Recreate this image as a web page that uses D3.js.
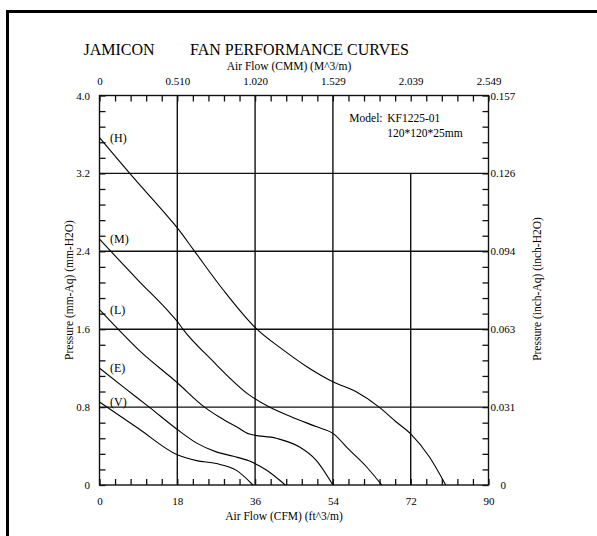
<!DOCTYPE html>
<html>
<head>
<meta charset="utf-8">
<script src="https://cdn.jsdelivr.net/npm/d3@7"></script>
<style>
  body { margin: 0; background: #fff; }
  svg { display: block; font-family: "Liberation Serif", "Times New Roman", serif; }
</style>
</head>
<body>
<svg id="chart" width="597" height="536"></svg>
<script>
// fan curves: airflow in CFM, static pressure in mm-Aq
const curveNames = ["(H)", "(M)", "(L)", "(E)", "(V)"];
const flowH = [0, 7, 16.3, 18, 22, 28.6, 36.4, 42.4, 47.8, 54, 59.4, 64.7, 68.6, 72, 76.3, 80.1];
const presH = [3.567, 3.2, 2.73, 2.64, 2.4, 2.005, 1.6, 1.39, 1.22, 1.06, 0.957, 0.8, 0.65, 0.525, 0.29, 0];
const flowM = [0, 9, 16.3, 18, 19.3, 25.9, 34.7, 39.3, 44.7, 50.1, 54, 57.8, 61.7, 65.3];
const presM = [2.525, 2.1, 1.766, 1.68, 1.6, 1.287, 0.923, 0.8, 0.694, 0.6, 0.53, 0.36, 0.19, 0];
const flowL = [0, 4.3, 9, 18, 24.3, 28, 32, 34.7, 40.9, 46.3, 50.1, 54];
const presL = [1.8, 1.6, 1.39, 1.05, 0.8, 0.69, 0.59, 0.523, 0.48, 0.39, 0.256, 0];
const flowE = [0, 6, 11.5, 18, 22.5, 27, 31, 34.7, 38.6, 43];
const presE = [1.2, 0.99, 0.8, 0.57, 0.43, 0.34, 0.295, 0.246, 0.154, 0];
const flowV = [0, 9, 18, 22.5, 27, 31.7, 35.5];
const presV = [0.853, 0.58, 0.31, 0.25, 0.22, 0.15, 0];

// axis ticks and the secondary unit labels
const cfmTicks = [0, 18, 36, 54, 72, 90];
const cmmLabels = ["0", "0.510", "1.020", "1.529", "2.039", "2.549"];
const mmTicks = [0, 0.8, 1.6, 2.4, 3.2, 4.0];
const inchLabels = ["0", "0.031", "0.063", "0.094", "0.126", "0.157"];

const series = [
  { name: curveNames[0], flow: flowH, pres: presH },
  { name: curveNames[1], flow: flowM, pres: presM },
  { name: curveNames[2], flow: flowL, pres: presL },
  { name: curveNames[3], flow: flowE, pres: presE },
  { name: curveNames[4], flow: flowV, pres: presV }
];

const svg = d3.select("#chart");

// outer frame (runs off the right and bottom edges)
svg.append("rect")
  .attr("x", 7.5).attr("y", 11.5)
  .attr("width", 700).attr("height", 700)
  .attr("fill", "#fff").attr("stroke", "#000").attr("stroke-width", 3);

let x = d3.scaleLinear().domain([0, 90]).range([99.5, 488.5]);
let y = d3.scaleLinear().domain([0, 4]).range([485, 95.5]);

// titles
svg.append("text").attr("x", 83.5).attr("y", 54.5)
  .attr("font-size", 16).text("JAMICON");
svg.append("text").attr("x", 190).attr("y", 54.5)
  .attr("font-size", 16).text("FAN PERFORMANCE CURVES");
svg.append("text").attr("x", 289).attr("y", 69.5)
  .attr("text-anchor", "middle").attr("font-size", 11.5)
  .text("Air Flow (CMM) (M^3/m)");
svg.append("text").attr("x", 284).attr("y", 520)
  .attr("text-anchor", "middle").attr("font-size", 11.5)
  .text("Air Flow (CFM) (ft^3/m)");
svg.append("text").attr("transform", "translate(73,290) rotate(-90)")
  .attr("text-anchor", "middle").attr("font-size", 11.5)
  .text("Pressure (mm-Aq) (mm-H2O)");
svg.append("text").attr("transform", "translate(541,289) rotate(-90)")
  .attr("text-anchor", "middle").attr("font-size", 11.5)
  .text("Pressure (inch-Aq) (inch-H2O)");

// grid lines
let grid = svg.append("g").attr("stroke", "#111").attr("stroke-width", 1.4);
[0.8, 1.6, 2.4, 3.2].forEach((p) => {
  grid.append("line")
    .attr("x1", x(0)).attr("x2", x(90))
    .attr("y1", y(p)).attr("y2", y(p));
});
[18, 36, 54, 72].forEach((f) => {
  grid.append("line")
    .attr("x1", x(f)).attr("x2", x(f))
    .attr("y1", y(0)).attr("y2", f === 72 ? y(3.2) : y(4));
});

// small inward ticks on all four sides
const xMinor = d3.range(0, 26).map((i) => i * 3.6);
const yMinor = d3.range(0, 26).map((i) => i * 0.16);

function styleTicks(g) {
  g.select(".domain").remove();
  g.selectAll(".tick line").attr("stroke", "#111").attr("stroke-width", 1.3);
}

svg.append("g").attr("transform", `translate(0,${y(0)})`)
  .call(d3.axisBottom(x).tickValues(xMinor).tickSize(-6).tickFormat(""))
  .call(styleTicks);
svg.append("g").attr("transform", `translate(0,${y(4)})`)
  .call(d3.axisTop(x).tickValues(xMinor).tickSize(-6).tickFormat(""))
  .call(styleTicks);
svg.append("g").attr("transform", `translate(${x(0)},0)`)
  .call(d3.axisLeft(y).tickValues(yMinor).tickSize(-6).tickFormat(""))
  .call(styleTicks);
svg.append("g").attr("transform", `translate(${x(90)},0)`)
  .call(d3.axisRight(y).tickValues(yMinor).tickSize(-6).tickFormat(""))
  .call(styleTicks);

// tick labels
function styleLabels(g) {
  g.select(".domain").remove();
  g.selectAll(".tick line").remove();
  g.selectAll("text").attr("font-size", 11).attr("fill", "#000")
    .attr("font-family", "Liberation Serif, Times New Roman, serif");
}

svg.append("g").attr("transform", `translate(0,${y(0)})`)
  .call(d3.axisBottom(x).tickValues(cfmTicks).tickSize(0).tickPadding(12.5))
  .call(styleLabels);
svg.append("g").attr("transform", `translate(0,${y(4)})`)
  .call(d3.axisTop(x).tickValues(cfmTicks).tickSize(0).tickPadding(11)
    .tickFormat((d, i) => cmmLabels[i]))
  .call(styleLabels);
svg.append("g").attr("transform", `translate(${x(0)},0)`)
  .call(d3.axisLeft(y).tickValues(mmTicks).tickSize(0).tickPadding(9.5)
    .tickFormat((d) => d === 0 ? "0" : d3.format(".1f")(d)))
  .call(styleLabels);
svg.append("g").attr("transform", `translate(${x(90)},0)`)
  .call(d3.axisRight(y).tickValues(mmTicks).tickSize(0).tickPadding(2)
    .tickFormat((d, i) => inchLabels[i]))
  .call(styleLabels)
  .call((g) => g.selectAll("text").filter((d) => d === 0).attr("x", 12));

// plot frame
svg.append("rect")
  .attr("x", x(0)).attr("y", y(4))
  .attr("width", x(90) - x(0)).attr("height", y(0) - y(4))
  .attr("fill", "none").attr("stroke", "#111").attr("stroke-width", 1.4);

// curves
let line = d3.line()
  .x((d) => x(d[0]))
  .y((d) => y(d[1]))
  .curve(d3.curveMonotoneX);

series.forEach((s) => {
  let pts = s.flow.map((f, i) => [f, s.pres[i]]);
  svg.append("path")
    .attr("d", line(pts))
    .attr("fill", "none")
    .attr("stroke", "#000")
    .attr("stroke-width", 1.1);

  svg.append("text")
    .attr("x", x(0) + 10.5)
    .attr("y", y(s.pres[0]) + 4)
    .attr("font-size", 12)
    .text(s.name);
});

// model box text
svg.append("text").attr("x", 349.3).attr("y", 122).attr("font-size", 11.5).text("Model:");
svg.append("text").attr("x", 387.3).attr("y", 122).attr("font-size", 11.5).text("KF1225-01");
svg.append("text").attr("x", 387.3).attr("y", 137).attr("font-size", 11.5).text("120*120*25mm");
</script>
</body>
</html>
